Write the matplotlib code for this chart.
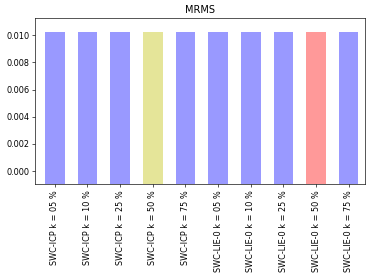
import matplotlib
matplotlib.use("Agg")
from matplotlib import pyplot as plt

# Chart data
labels = [
    "SWC-ICP k = 05 %", "SWC-ICP k = 10 %", "SWC-ICP k = 25 %",
    "SWC-ICP k = 50 %", "SWC-ICP k = 75 %", "SWC-LIE-0 k = 05 %",
    "SWC-LIE-0 k = 10 %", "SWC-LIE-0 k = 25 %", "SWC-LIE-0 k = 50 %",
    "SWC-LIE-0 k = 75 %",
]
mrms = [0.01022] * 10
bar_colors = ["b", "b", "b", "y", "b", "b", "b", "b", "r", "b"]

# default-size figure rendered at a low dpi to land on 374x279 px
fig_dpi = 374 / 6.4
fig = plt.figure(figsize=(6.4, 279 / fig_dpi), dpi=fig_dpi)
ax = fig.add_axes((0.094, 0.34, 0.882, 0.595))

x = list(range(len(labels)))
ax.bar(x, [v + 0.002 for v in mrms], bottom=-0.002, width=0.6,
       color=bar_colors, alpha=0.4)

ax.set_xlim(-0.6, 9.5)
ax.set_ylim(-0.00095, 0.01125)
ax.set_yticks([0.0, 0.002, 0.004, 0.006, 0.008, 0.010])
ax.set_yticklabels([f"{v:.3f}" for v in ax.get_yticks()])
ax.set_xticks(x)
ax.set_xticklabels(labels, rotation=90)
ax.set_title("MRMS")

fig.savefig("out.png", dpi=fig_dpi)
